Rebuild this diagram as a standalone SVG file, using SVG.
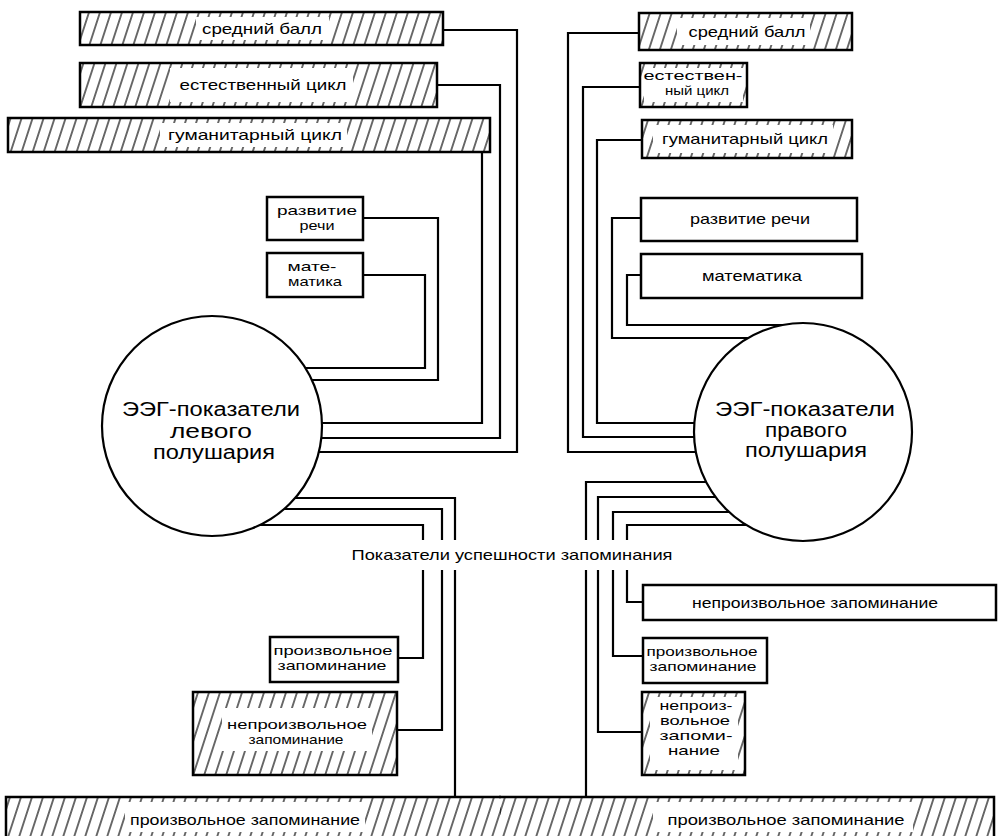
<svg xmlns="http://www.w3.org/2000/svg" width="1000" height="836" viewBox="0 0 1000 836">
<defs>
<pattern id="hatch" width="11" height="12" patternUnits="userSpaceOnUse" patternTransform="skewX(-18)">
<line x1="5" y1="0" x2="5" y2="12" stroke="#000" stroke-width="1.2"/>
</pattern>
<style>
.box{fill:#fff;stroke:#000;stroke-width:2.5}
.hbox{fill:url(#hatch);stroke:#000;stroke-width:2.5}
.hout{fill:none;stroke:#000;stroke-width:2.5}
.hfill{fill:url(#hatch);stroke:none}
.clear{fill:#fff;stroke:none}
.circ{fill:#fff;stroke:#000;stroke-width:2.2}
.t{font-family:"Liberation Sans",Arial,sans-serif;font-size:15px;fill:#000;text-anchor:middle}
.s{font-family:"Liberation Sans",Arial,sans-serif;font-size:13px;fill:#000;text-anchor:middle}
.big{font-family:"Liberation Sans",Arial,sans-serif;font-size:20px;fill:#000;text-anchor:middle}
.conn{fill:none;stroke:#000;stroke-width:2.2}
</style>
</defs>
<rect width="1000" height="836" fill="#fff"/>

<g id="connectors">
<path class="conn" d="M443 30 H517 V452 H319"/>
<path class="conn" d="M437 85 H500 V438 H321"/>
<path class="conn" d="M482 152 V423 H322"/>
<path class="conn" d="M363 218 H438 V380 H312"/>
<path class="conn" d="M363 275 H425 V368 H305"/>
<path class="conn" d="M295 498 H455 V540 M455 570 V797"/>
<path class="conn" d="M284 509 H442 V540 M442 570 V730 H397"/>
<path class="conn" d="M260 525 H423 V540 M423 570 V658 H398"/>
<path class="conn" d="M639 33 H568 V452 H696"/>
<path class="conn" d="M640 87 H583 V437 H694"/>
<path class="conn" d="M642 140 H597 V423 H694"/>
<path class="conn" d="M641 218 H612 V338 H748"/>
<path class="conn" d="M641 275 H627 V325 H782"/>
<path class="conn" d="M706 482 H586 V540 M586 570 V797"/>
<path class="conn" d="M715 497 H598 V540 M598 570 V732 H642"/>
<path class="conn" d="M729 512 H613 V540 M613 570 V656 H643"/>
<path class="conn" d="M746 525 H627 V540 M627 570 V602 H643"/>
</g>

<g id="left-avg">
<rect class="hbox" x="80" y="12" width="363" height="33"/>
<rect class="clear" x="196" y="17" width="133" height="23"/>
<text class="t" x="262" y="34" textLength="120" lengthAdjust="spacingAndGlyphs">средний балл</text>
</g>
<g id="left-natural">
<rect class="hbox" x="80" y="63" width="357" height="44"/>
<rect class="clear" x="170" y="68" width="183" height="34"/>
<text class="t" x="263" y="90" textLength="167" lengthAdjust="spacingAndGlyphs">естественный цикл</text>
</g>
<g id="left-humanities">
<rect class="hbox" x="8" y="118" width="482" height="34"/>
<rect class="clear" x="160" y="123" width="187" height="24"/>
<text class="t" x="255" y="140" textLength="174" lengthAdjust="spacingAndGlyphs">гуманитарный цикл</text>
</g>
<g id="left-speech">
<rect class="box" x="267" y="197" width="96" height="43"/>
<text class="s" x="317" y="215" textLength="80" lengthAdjust="spacingAndGlyphs">развитие</text>
<text class="s" x="317" y="230" textLength="35" lengthAdjust="spacingAndGlyphs">речи</text>
</g>
<g id="left-math">
<rect class="box" x="267" y="253" width="96" height="44"/>
<text class="s" x="312" y="271" textLength="49" lengthAdjust="spacingAndGlyphs">мате-</text>
<text class="s" x="315" y="286" textLength="54" lengthAdjust="spacingAndGlyphs">матика</text>
</g>
<g id="left-hemisphere">
<circle class="circ" cx="212" cy="426" r="110"/>
<text class="big" x="211" y="416" textLength="178" lengthAdjust="spacingAndGlyphs">ЭЭГ-показатели</text>
<text class="big" x="211" y="438" textLength="82" lengthAdjust="spacingAndGlyphs">левого</text>
<text class="big" x="214" y="459" textLength="122" lengthAdjust="spacingAndGlyphs">полушария</text>
</g>

<g id="right-avg">
<rect class="hbox" x="639" y="13" width="213" height="37"/>
<rect class="clear" x="677" y="18" width="133" height="27"/>
<text class="t" x="747" y="37" textLength="117" lengthAdjust="spacingAndGlyphs">средний балл</text>
</g>
<g id="right-natural">
<rect class="hbox" x="640" y="63" width="107" height="44"/>
<rect class="clear" x="644" y="68" width="99" height="34"/>
<text class="s" x="693" y="80" textLength="99" lengthAdjust="spacingAndGlyphs">естествен-</text>
<text class="s" x="697" y="95" textLength="64" lengthAdjust="spacingAndGlyphs">ный цикл</text>
</g>
<g id="right-humanities">
<rect class="hbox" x="642" y="120" width="210" height="38"/>
<rect class="clear" x="653" y="125" width="180" height="28"/>
<text class="t" x="745" y="144" textLength="166" lengthAdjust="spacingAndGlyphs">гуманитарный цикл</text>
</g>
<g id="right-speech">
<rect class="box" x="641" y="198" width="216" height="43"/>
<text class="t" x="750" y="224" textLength="120" lengthAdjust="spacingAndGlyphs">развитие речи</text>
</g>
<g id="right-math">
<rect class="box" x="641" y="254" width="221" height="44"/>
<text class="t" x="752" y="281" textLength="100" lengthAdjust="spacingAndGlyphs">математика</text>
</g>
<g id="right-hemisphere">
<circle class="circ" cx="803" cy="432" r="109"/>
<text class="big" x="805" y="416" textLength="180" lengthAdjust="spacingAndGlyphs">ЭЭГ-показатели</text>
<text class="big" x="806" y="437" textLength="82" lengthAdjust="spacingAndGlyphs">правого</text>
<text class="big" x="806" y="457" textLength="122" lengthAdjust="spacingAndGlyphs">полушария</text>
</g>

<g id="memory-label">
<text class="t" x="512" y="560" textLength="321" lengthAdjust="spacingAndGlyphs">Показатели успешности запоминания</text>
</g>

<g id="left-voluntary">
<rect class="box" x="270" y="637" width="128" height="45"/>
<text class="s" x="333" y="655" textLength="119" lengthAdjust="spacingAndGlyphs">произвольное</text>
<text class="s" x="332" y="670" textLength="109" lengthAdjust="spacingAndGlyphs">запоминание</text>
</g>
<g id="left-involuntary">
<rect class="hbox" x="193" y="692" width="204" height="83"/>
<rect class="clear" x="222" y="708" width="150" height="43"/>
<text class="s" x="297" y="729" textLength="140" lengthAdjust="spacingAndGlyphs">непроизвольное</text>
<text class="s" x="296" y="744" textLength="95" lengthAdjust="spacingAndGlyphs">запоминание</text>
</g>

<g id="right-involuntary-wide">
<rect class="box" x="643" y="585" width="353" height="35"/>
<text class="t" x="815" y="608" textLength="246" lengthAdjust="spacingAndGlyphs">непроизвольное запоминание</text>
</g>
<g id="right-voluntary">
<rect class="box" x="643" y="638" width="124" height="45"/>
<text class="s" x="702" y="656" textLength="111" lengthAdjust="spacingAndGlyphs">произвольное</text>
<text class="s" x="703" y="671" textLength="107" lengthAdjust="spacingAndGlyphs">запоминание</text>
</g>
<g id="right-involuntary">
<rect class="hbox" x="642" y="692" width="103" height="83"/>
<rect class="clear" x="650" y="697" width="88" height="73"/>
<text class="s" x="696" y="710" textLength="73" lengthAdjust="spacingAndGlyphs">непроиз-</text>
<text class="s" x="695" y="725" textLength="70" lengthAdjust="spacingAndGlyphs">вольное</text>
<text class="s" x="696" y="740" textLength="73" lengthAdjust="spacingAndGlyphs">запоми-</text>
<text class="s" x="694" y="755" textLength="52" lengthAdjust="spacingAndGlyphs">нание</text>
</g>

<g id="bottom-left-voluntary">
<rect class="hfill" x="6" y="797" width="495" height="50"/>
<rect class="clear" x="125" y="802" width="240" height="30"/>
<path class="hout" d="M501 797 H6 V840"/>
<text class="t" x="245" y="825" textLength="230" lengthAdjust="spacingAndGlyphs">произвольное запоминание</text>
</g>
<g id="bottom-right-voluntary">
<rect class="hfill" x="500" y="797" width="494" height="50"/>
<rect class="clear" x="653" y="802" width="260" height="30"/>
<path class="hout" d="M499 797 H994 V840"/>
<text class="t" x="786" y="825" textLength="237" lengthAdjust="spacingAndGlyphs">произвольное запоминание</text>
</g>
</svg>
